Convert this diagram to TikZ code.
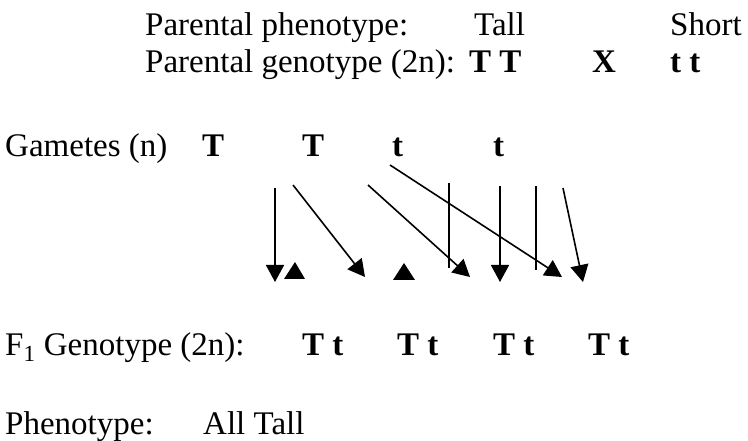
\documentclass[tikz,border=0pt]{standalone}
\usepackage{fontspec}
\setmainfont{Liberation Serif}
\usetikzlibrary{arrows.meta}
\begin{document}
\begin{tikzpicture}[x=1pt,y=-1pt,
  txt/.style={anchor=base west,inner sep=0pt,font=\fontsize{33}{38}\selectfont},
  btxt/.style={txt,font=\fontsize{33}{38}\selectfont\bfseries},
  arr/.style={line width=1.6pt,-{Triangle[length=17pt,width=18pt]}},
  plain/.style={line width=1.6pt},
  tri/.style={fill=black}]
\useasboundingbox (0,0) rectangle (748,441);
% parental rows
\node[txt] (pp) at (145,36) {Parental phenotype:};
\node[txt] (tall) at (474,36) {Tall};
\node[txt] (short) at (670,36) {Short};
\node[txt] (pg) at (145,73) {Parental genotype (2n):};
\node[btxt] (TT) at (469,73) {T T};
\node[btxt] (X) at (592,73) {X};
\node[btxt] (tt) at (670,73) {t t};
% gametes
\node[txt] (gam) at (5,157) {Gametes (n)};
\node[btxt] (g1) at (202,157) {T};
\node[btxt] (g2) at (302,157) {T};
\node[btxt] (g3) at (392,157) {t};
\node[btxt] (g4) at (493,157) {t};
% F1
\node[txt] (f1) at (5,355) {F\textsubscript{1} Genotype (2n):};
\node[btxt] (o1) at (302,355) {T t};
\node[btxt] (o2) at (397,355) {T t};
\node[btxt] (o3) at (493,355) {T t};
\node[btxt] (o4) at (588,355) {T t};
% phenotype
\node[txt] (ph) at (5,434) {Phenotype:};
\node[txt] (all) at (203,434) {All Tall};
% arrow coordinates
\coordinate (a1s) at (275,188); \coordinate (a1e) at (275,282);
\coordinate (a3s) at (293,185); \coordinate (a3e) at (365,277);
\coordinate (a5s) at (368,185); \coordinate (a5e) at (470,277);
\coordinate (l6s) at (449,183); \coordinate (l6e) at (449,268);
\coordinate (a7s) at (500,186); \coordinate (a7e) at (500,282);
\coordinate (a8s) at (390,165); \coordinate (a8e) at (562,277);
\coordinate (l9s) at (536,186); \coordinate (l9e) at (536,270);
\coordinate (a10s) at (563,188); \coordinate (a10e) at (583,282);
\draw[arr] (a1s) -- (a1e);
\draw[arr] (a3s) -- (a3e);
\draw[arr] (a5s) -- (a5e);
\draw[plain] (l6s) -- (l6e);
\draw[arr] (a7s) -- (a7e);
\draw[arr] (a8s) -- (a8e);
\draw[plain] (l9s) -- (l9e);
\draw[arr] (a10s) -- (a10e);
% loose triangles
\fill[tri] (295,262) -- (305,279) -- (284,279) -- cycle;
\fill[tri] (404,263) -- (415,280) -- (393,280) -- cycle;
\end{tikzpicture}
\end{document}
